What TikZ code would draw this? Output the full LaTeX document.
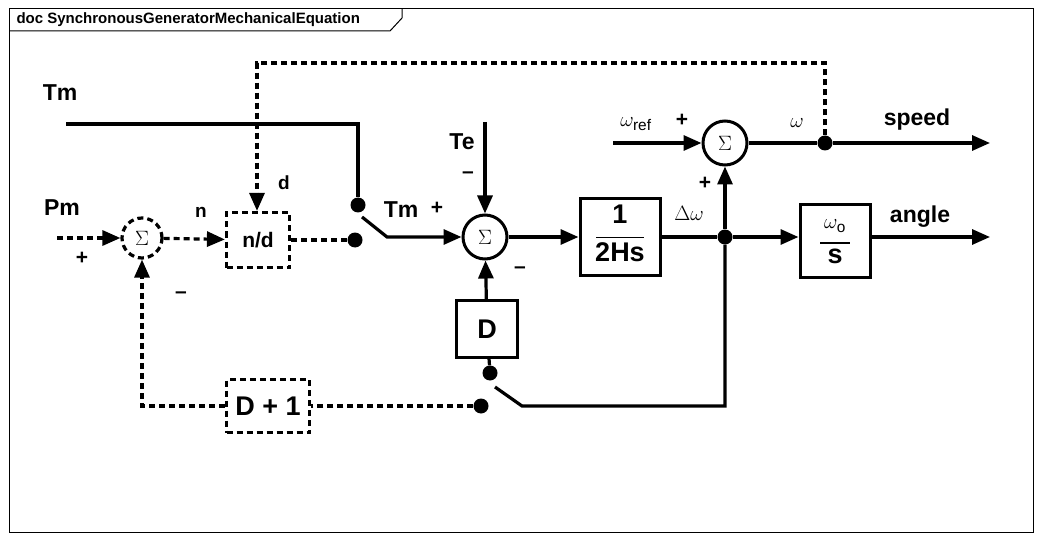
\documentclass[tikz,border=0pt]{standalone}
\usepackage{fontspec}
\setmainfont{Liberation Sans}
\usetikzlibrary{arrows.meta}

\tikzset{
  blk/.style={draw, line width=3pt, minimum width=#1, inner sep=0pt},
  sumnode/.style={draw, circle, line width=3pt, minimum size=44pt, inner sep=0pt, font=\fontsize{20}{20}\selectfont},
  dsh/.style={line width=3.2pt, dash pattern=on 6pt off 4pt},
  sig/.style={line width=3.2pt},
  arr/.style={-{Triangle[length=18pt,width=15pt]}},
  dot/.style={circle, fill, inner sep=0pt, minimum size=15pt},
  lbl/.style={font=\bfseries\fontsize{23}{23}\selectfont},
  sgn/.style={font=\bfseries\fontsize{21}{21}\selectfont}
}

\begin{document}
\begin{tikzpicture}[x=1pt, y=-1pt]
  \useasboundingbox (0,0) rectangle (1041,540);
  % Frame and title
  \draw[line width=1pt] (9,9) rectangle (1033,532);
  \draw[line width=1pt] (9,31) -- (390,31) -- (402,18) -- (402,9);
  \node[anchor=west, font=\bfseries\fontsize{15}{15}\selectfont] (title) at (13,20) {doc SynchronousGeneratorMechanicalEquation};

  % Summing points
  \node[sumnode, dsh, minimum size=40pt] (sum0) at (142,238) {$\Sigma$};
  \node[sumnode] (sum1) at (485,237) {$\Sigma$};
  \node[sumnode] (sum2) at (725,143) {$\Sigma$};

  % Blocks
  \node[blk=63pt, dsh, minimum height=55pt, font=\bfseries\fontsize{21}{21}\selectfont] (nd) at (258,240) {n/d};
  \node[blk=83pt, dsh, minimum height=53pt, font=\bfseries\fontsize{27}{27}\selectfont] (dp1) at (268,406) {D + 1};
  \node[blk=61pt, minimum height=57pt, font=\bfseries\fontsize{27}{27}\selectfont] (dblk) at (487,329) {D};
  \node[blk=80pt, minimum height=77pt, font=\bfseries\fontsize{27}{27}\selectfont] (hs) at (620,237)
    {\begin{tabular}{@{}c@{}}1\\[-12pt]\rule{48pt}{1.8pt}\\[-4pt]2Hs\end{tabular}};
  \node[blk=70pt, minimum height=72pt, font=\bfseries\fontsize{27}{27}\selectfont] (ws) at (835,241)
    {\begin{tabular}{@{}c@{}}\fontsize{22}{22}\selectfont$\omega_{\mathrm{o}}$\\[-12pt]\rule{30pt}{1.8pt}\\[-7pt]s\end{tabular}};

  % Switch contacts and junctions
  \node[dot] (swa) at (358,205) {};
  \node[dot] (swb) at (355,240) {};
  \node[dot] (swc) at (490,373) {};
  \node[dot] (swd) at (481,406) {};
  \node[dot] (jdw) at (725,237) {};
  \node[dot] (jw) at (825,143) {};
  \coordinate (tmin) at (66,124);
  \coordinate (pmin) at (57,238);
  \coordinate (tein) at (485,122);
  \coordinate (wrefin) at (613,143);
  \coordinate (spdout) at (990,143);
  \coordinate (angout) at (990,237);

  % Solid paths
  \draw[sig] (tmin) -| (swa);
  \draw[sig, arr] (swa) ++(4,12) -- (387,237) -- (sum1);
  \draw[sig, arr] (tein) -- (sum1);
  \draw[sig, arr] (dblk) -- (sum1);
  \draw[sig, arr] (sum1) -- (hs);
  \draw[sig] (hs) -- (jdw);
  \draw[sig, arr] (jdw) -- (jdw -| ws.west);
  \draw[sig, arr] (ws.east |- angout) -- (angout);
  \draw[sig, arr] (jdw) -- (sum2);
  \draw[sig, arr] (wrefin) -- (sum2);
  \draw[sig] (sum2) -- (jw);
  \draw[sig, arr] (jw) -- (spdout);
  \draw[sig] (dblk) -- (swc);
  \draw[sig] (swc) ++(5,14) -- (522,406) -| (jdw);

  % Dashed paths
  \draw[dsh, arr] (pmin) -- (sum0);
  \draw[dsh, arr] (sum0) -- (nd);
  \draw[dsh] (nd) -- (swb);
  \draw[dsh, arr] (jw) |- (257,63) -- (nd.north -| 257,0);
  \draw[dsh] (swd) -- (dp1);
  \draw[dsh, arr] (dp1) -| (sum0);

  % Labels
  \node[lbl] (ltm) at (60,93) {Tm};
  \node[lbl] (lpm) at (62,208) {Pm};
  \node[lbl] (lte) at (462,142) {Te};
  \node[lbl] (ltm2) at (401,210) {Tm};
  \node[lbl, font=\bfseries\fontsize{19}{19}\selectfont] (ln) at (201,212) {n};
  \node[lbl, font=\bfseries\fontsize{19}{19}\selectfont] (ld) at (284,183) {d};
  \node[lbl] (lspd) at (917,120) {speed};
  \node[lbl] (lang) at (920,217) {angle};
  \node[font=\fontsize{22}{22}\selectfont] (ldw) at (689,213) {$\Delta\omega$};
  \node[font=\fontsize{22}{22}\selectfont] (lw) at (797,123) {$\omega$};
  \node[font=\fontsize{22}{22}\selectfont] (lwref) at (636,124) {$\omega_{\mathrm{ref}}$};
  \node[sgn] at (437,208) {+};
  \node[sgn] at (82,258) {+};
  \node[sgn] at (682,120) {+};
  \node[sgn] at (705,183) {+};
  \node[sgn] at (181,295) {--};
  \node[sgn] at (468,175) {--};
  \node[sgn] at (520,270) {--};
\end{tikzpicture}
\end{document}
